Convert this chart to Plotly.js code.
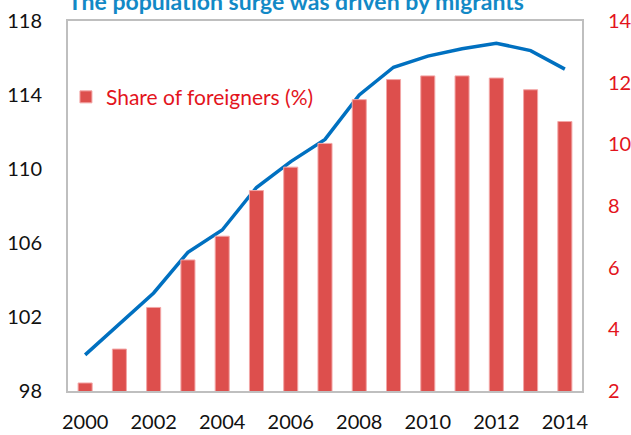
<!DOCTYPE html>
<html>
<head>
<meta charset="utf-8">
<script src="https://cdn.plot.ly/plotly-3.0.1.min.js"></script>
<style>html,body{margin:0;padding:0;background:#fff;}#chart{width:631px;height:435px;}</style>
</head>
<body>
<div id="chart"></div>
<script>
var years = [2000, 2001, 2002, 2003, 2004, 2005, 2006, 2007, 2008, 2009, 2010, 2011, 2012, 2013, 2014];
var populationIndex = [99.95, 101.6, 103.3, 105.5, 106.7, 109.0, 110.4, 111.6, 114.0, 115.5, 116.1, 116.5, 116.8, 116.4, 115.4];
var shareForeigners = [2.26, 3.36, 4.71, 6.25, 7.02, 8.5, 9.26, 10.03, 11.45, 12.1, 12.22, 12.22, 12.15, 11.77, 10.74];
var xTicks = [2000, 2002, 2004, 2006, 2008, 2010, 2012, 2014];
var leftTicks = [98, 102, 106, 110, 114, 118];
var rightTicks = [2, 4, 6, 8, 10, 12, 14];

var FONT = 'Lato, "Open Sans", "Liberation Sans", sans-serif';
var RED = '#e3141c';

var traces = [
  {
    type: 'bar',
    x: years,
    y: shareForeigners,
    yaxis: 'y2',
    name: 'Share of foreigners (%)',
    width: 0.41,
    marker: {color: '#dd4f4d', line: {color: '#f3a6a6', width: 1}},
    showlegend: true,
    hoverinfo: 'x+y'
  },
  {
    type: 'scatter',
    mode: 'lines',
    x: years,
    y: populationIndex,
    yaxis: 'y',
    name: 'Population',
    line: {color: '#0070c0', width: 3.5},
    showlegend: false
  }
];

var layout = {
  width: 631,
  height: 435,
  margin: {l: 68, r: 49, t: 21, b: 44, pad: 0},
  paper_bgcolor: '#ffffff',
  plot_bgcolor: '#ffffff',
  font: {family: FONT, size: 20, color: '#111111'},
  title: {
    text: 'The population surge was driven by migrants',
    font: {family: FONT, size: 23, color: '#1289c6', weight: 'bold'},
    xref: 'paper', x: 0, xanchor: 'left',
    yref: 'container', y: 0.995, yanchor: 'middle'
  },
  xaxis: {
    range: [1999.5, 2014.5],
    tickvals: xTicks,
    ticktext: xTicks.map(String),
    showgrid: false,
    zeroline: false,
    showline: true,
    mirror: true,
    linecolor: '#bfbfbf',
    linewidth: 2,
    ticks: '',
    ticklabelstandoff: 12,
    tickfont: {family: FONT, size: 20, color: '#111111'}
  },
  yaxis: {
    range: [98, 118],
    tickvals: leftTicks,
    showgrid: false,
    zeroline: false,
    showline: true,
    linecolor: '#bfbfbf',
    linewidth: 2,
    ticks: '',
    ticklabelstandoff: 20,
    tickfont: {family: FONT, size: 20, color: '#111111'}
  },
  yaxis2: {
    range: [2, 14],
    tickvals: rightTicks,
    overlaying: 'y',
    side: 'right',
    showgrid: false,
    zeroline: false,
    showline: true,
    linecolor: '#bfbfbf',
    linewidth: 2,
    ticks: '',
    ticklabelstandoff: 20,
    tickfont: {family: FONT, size: 20, color: RED}
  },
  legend: {
    x: -0.004, xanchor: 'left',
    y: 0.794, yanchor: 'middle',
    bgcolor: 'rgba(0,0,0,0)',
    font: {family: FONT, size: 21, color: RED}
  },
  showlegend: true
};

Plotly.newPlot('chart', traces, layout, {staticPlot: true, displayModeBar: false});
</script>
</body>
</html>
